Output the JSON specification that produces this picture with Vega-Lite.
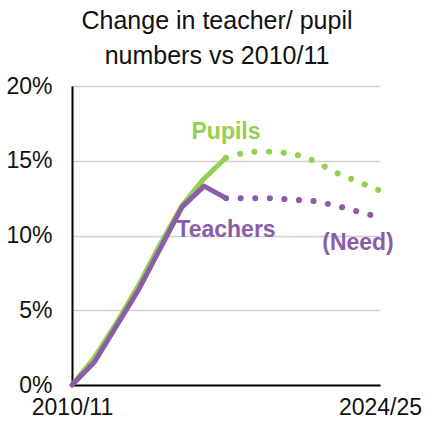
{
  "$schema": "https://vega.github.io/schema/vega-lite/v6.json",
  "width": 308,
  "height": 299,
  "autosize": {"type": "none"},
  "padding": {"left": 72, "top": 86, "right": 46, "bottom": 41},
  "background": "white",
  "title": {
    "text": ["Change in teacher/ pupil", "numbers vs 2010/11"],
    "font": "Liberation Sans",
    "fontSize": 25,
    "fontWeight": "normal",
    "color": "#111111",
    "lineHeight": 35,
    "anchor": "middle",
    "dx": -9,
    "offset": 6
  },
  "config": {
    "view": {"stroke": null},
    "font": "Liberation Sans"
  },
  "datasets": {
    "lines": [
      {"year": "2010/11", "value": 0.0, "series": "Pupils", "phase": "actual"},
      {"year": "2011/12", "value": 1.8, "series": "Pupils", "phase": "actual"},
      {"year": "2012/13", "value": 4.1, "series": "Pupils", "phase": "actual"},
      {"year": "2013/14", "value": 6.6, "series": "Pupils", "phase": "actual"},
      {"year": "2014/15", "value": 9.4, "series": "Pupils", "phase": "actual"},
      {"year": "2015/16", "value": 12.0, "series": "Pupils", "phase": "actual"},
      {"year": "2016/17", "value": 13.8, "series": "Pupils", "phase": "actual"},
      {"year": "2017/18", "value": 15.2, "series": "Pupils", "phase": "actual"},
      {"year": "2017/18", "value": 15.2, "series": "Pupils", "phase": "projected"},
      {"year": "2018/19", "value": 15.6, "series": "Pupils", "phase": "projected"},
      {"year": "2019/20", "value": 15.6, "series": "Pupils", "phase": "projected"},
      {"year": "2020/21", "value": 15.5, "series": "Pupils", "phase": "projected"},
      {"year": "2021/22", "value": 15.0, "series": "Pupils", "phase": "projected"},
      {"year": "2022/23", "value": 14.2, "series": "Pupils", "phase": "projected"},
      {"year": "2023/24", "value": 13.6, "series": "Pupils", "phase": "projected"},
      {"year": "2024/25", "value": 13.0, "series": "Pupils", "phase": "projected"},
      {"year": "2010/11", "value": 0.0, "series": "Teachers", "phase": "actual"},
      {"year": "2011/12", "value": 1.5, "series": "Teachers", "phase": "actual"},
      {"year": "2012/13", "value": 3.9, "series": "Teachers", "phase": "actual"},
      {"year": "2013/14", "value": 6.3, "series": "Teachers", "phase": "actual"},
      {"year": "2014/15", "value": 9.1, "series": "Teachers", "phase": "actual"},
      {"year": "2015/16", "value": 11.9, "series": "Teachers", "phase": "actual"},
      {"year": "2016/17", "value": 13.3, "series": "Teachers", "phase": "actual"},
      {"year": "2017/18", "value": 12.5, "series": "Teachers", "phase": "actual"},
      {"year": "2017/18", "value": 12.5, "series": "Teachers", "phase": "projected"},
      {"year": "2018/19", "value": 12.5, "series": "Teachers", "phase": "projected"},
      {"year": "2019/20", "value": 12.5, "series": "Teachers", "phase": "projected"},
      {"year": "2020/21", "value": 12.4, "series": "Teachers", "phase": "projected"},
      {"year": "2021/22", "value": 12.3, "series": "Teachers", "phase": "projected"},
      {"year": "2022/23", "value": 12.0, "series": "Teachers", "phase": "projected"},
      {"year": "2023/24", "value": 11.6, "series": "Teachers", "phase": "projected"},
      {"year": "2024/25", "value": 11.2, "series": "Teachers", "phase": "projected"}
    ],
    "labels": [
      {"year": "2017/18", "value": 16.9, "label": "Pupils", "series": "Pupils"},
      {"year": "2017/18", "value": 10.4, "label": "Teachers", "series": "Teachers"},
      {"year": "2023/24", "value": 9.5, "label": "(Need)", "series": "Teachers"}
    ]
  },
  "encoding": {
    "x": {
      "field": "year",
      "type": "ordinal",
      "scale": {
        "type": "point",
        "padding": 0,
        "domain": ["2010/11","2011/12","2012/13","2013/14","2014/15","2015/16","2016/17","2017/18","2018/19","2019/20","2020/21","2021/22","2022/23","2023/24","2024/25"]
      },
      "axis": {
        "title": null,
        "values": ["2010/11", "2024/25"],
        "labelAngle": 0,
        "labelFontSize": 23,
        "labelColor": "#111111",
        "labelFont": "Liberation Sans",
        "labelPadding": 11,
        "ticks": false,
        "grid": false,
        "domainColor": "#000000",
        "domainWidth": 2,
        "labelOverlap": false
      }
    },
    "y": {
      "field": "value",
      "type": "quantitative",
      "scale": {"domain": [0, 20], "nice": false},
      "axis": {
        "title": null,
        "values": [0, 5, 10, 15, 20],
        "labelExpr": "datum.value + '%'",
        "labelFontSize": 23,
        "labelColor": "#111111",
        "labelFont": "Liberation Sans",
        "labelPadding": 20,
        "ticks": false,
        "domainColor": "#000000",
        "domainWidth": 2,
        "gridColor": "#cfcfcf",
        "gridWidth": 1.5
      }
    },
    "color": {
      "field": "series",
      "type": "nominal",
      "scale": {"domain": ["Pupils", "Teachers"], "range": ["#92D050", "#8B5CA8"]},
      "legend": null
    }
  },
  "layer": [
    {
      "transform": [{"filter": "datum.phase === 'actual' && datum.series === 'Pupils'"}],
      "data": {"name": "lines"},
      "mark": {"type": "line", "strokeWidth": 5, "strokeJoin": "round", "strokeCap": "round"}
    },
    {
      "transform": [{"filter": "datum.phase === 'actual' && datum.series === 'Teachers'"}],
      "data": {"name": "lines"},
      "mark": {"type": "line", "strokeWidth": 5, "strokeJoin": "round", "strokeCap": "round"}
    },
    {
      "transform": [{"filter": "datum.phase === 'projected'"}],
      "data": {"name": "lines"},
      "mark": {"type": "line", "strokeWidth": 6, "strokeCap": "round", "strokeDash": [0.1, 14.5]}
    },
    {
      "data": {"name": "labels"},
      "mark": {"type": "text", "fontSize": 23, "fontWeight": "bold", "font": "Liberation Sans", "align": "center", "baseline": "middle"},
      "encoding": {"text": {"field": "label"}}
    }
  ]
}
